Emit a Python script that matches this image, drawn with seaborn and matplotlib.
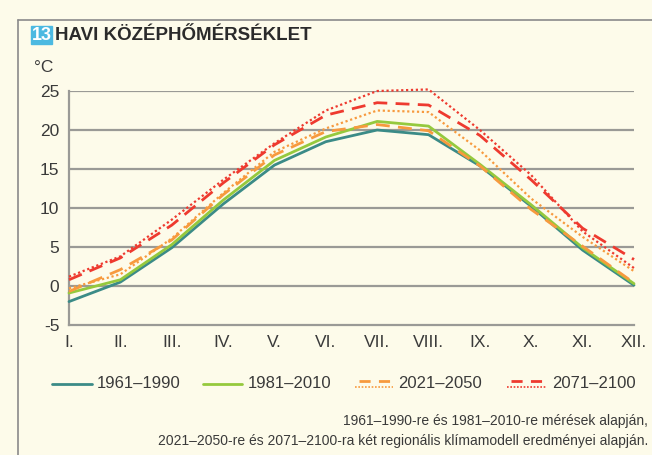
import numpy as np
import pandas as pd
import seaborn as sns
import matplotlib.pyplot as plt
from matplotlib.lines import Line2D
from matplotlib.patches import Rectangle

# monthly mean temperature (°C)
months = ["I.", "II.", "III.", "IV.", "V.", "VI.", "VII.", "VIII.", "IX.", "X.", "XI.", "XII."]
t_1961_1990 = [-2.0, 0.5, 4.9, 10.5, 15.5, 18.5, 20.0, 19.4, 15.4, 10.2, 4.6, 0.1]
t_1981_2010 = [-0.9, 0.8, 5.3, 11.0, 16.1, 19.1, 21.1, 20.5, 15.6, 10.4, 4.9, 0.3]
t_2021_2050_a = [-0.7, 2.1, 5.9, 11.7, 16.8, 19.8, 20.7, 19.9, 15.4, 9.8, 5.1, 0.4]
t_2021_2050_b = [-0.3, 1.5, 6.1, 11.9, 17.2, 20.2, 22.5, 22.3, 17.4, 11.2, 6.3, 1.9]
t_2071_2100_a = [0.8, 3.6, 7.8, 13.2, 18.1, 21.9, 23.5, 23.2, 19.3, 13.6, 7.4, 3.4]
t_2071_2100_b = [1.2, 3.8, 8.5, 13.6, 18.3, 22.5, 25.0, 25.2, 20.0, 14.2, 7.0, 2.3]

periods = ["1961–1990", "1981–2010", "2021–2050", "2071–2100"]

bg = "#fdfbea"
teal = "#3b8b87"
green = "#95c93d"
orange = "#f79a3e"
red = "#ee3a2f"
grid_c = "#9a9a96"
txt = "#3a3a3a"

sns.set_style("white")
plt.rcParams["font.family"] = ["Liberation Sans", "DejaVu Sans"]
plt.rcParams["axes.unicode_minus"] = False

fig = plt.figure(figsize=(6.52, 4.55), dpi=100, facecolor=bg)
ax = fig.add_axes([69 / 652, 130 / 455, 565 / 652, 234 / 455], facecolor=bg)

x = np.arange(len(months))
series = [
    (t_1961_1990, teal, "-", 2.0),
    (t_1981_2010, green, "-", 2.0),
    (t_2021_2050_a, orange, (0, (5, 3)), 2.0),
    (t_2021_2050_b, orange, (0, (1, 1.2)), 1.6),
    (t_2071_2100_a, red, (0, (5, 3)), 2.0),
    (t_2071_2100_b, red, (0, (1, 1.2)), 1.6),
]
for vals, col, ls, lw in series:
    sns.lineplot(x=x, y=vals, color=col, linestyle=ls, linewidth=lw, ax=ax, clip_on=False, zorder=3)

ax.set_xlim(0, 11)
ax.set_ylim(-5, 25)
ax.set_yticks(range(-5, 26, 5))
ax.set_xticks(x)
ax.set_xticklabels(months)
for yv in range(0, 26, 5):
    ax.axhline(yv, color=grid_c, linewidth=1.6, zorder=1)
for s in ["top", "right"]:
    ax.spines[s].set_visible(False)
for s in ["left", "bottom"]:
    ax.spines[s].set_color(grid_c)
    ax.spines[s].set_linewidth(1.6)
ax.tick_params(axis="both", colors=grid_c, labelcolor=txt, labelsize=12.5, length=5, width=1.3, pad=2)
ax.set_xlabel("")
ax.set_ylabel("")

# frame and title
fig.add_artist(Line2D([18 / 652, 18 / 652], [0, 1 - 20 / 455], transform=fig.transFigure, color="#8a8a8a", lw=1.2))
fig.add_artist(Line2D([18 / 652, 1], [1 - 20 / 455, 1 - 20 / 455], transform=fig.transFigure, color="#8a8a8a", lw=1.2))
fig.add_artist(Rectangle((31 / 652, 1 - 44 / 455), 21 / 652, 18 / 455, transform=fig.transFigure, color="#4cb9e1"))
fig.text(41.5 / 652, 1 - 35 / 455, "13", color="white", fontsize=13, fontweight="bold", ha="center", va="center")
fig.text(55 / 652, 1 - 35 / 455, "HAVI KÖZÉPHŐMÉRSÉKLET", color="#2b2b2b", fontsize=13.5, fontweight="bold",
         ha="left", va="center")
fig.text(34 / 652, 1 - 68 / 455, "°C", color=txt, fontsize=12.5, ha="left", va="center")

# legend
leg_y = 1 - 384 / 455
leg = [(52, 92, 97), (203, 242, 248), (355, 393, 398), (507, 547, 552)]
cols = [teal, green, orange, red]
for (x0, x1, xt), col, lab, i in zip(leg, cols, periods, range(4)):
    if i < 2:
        fig.add_artist(Line2D([x0 / 652, x1 / 652], [leg_y, leg_y], transform=fig.transFigure, color=col, lw=2))
    else:
        fig.add_artist(Line2D([(x0 + 4) / 652, x1 / 652], [leg_y + 3 / 455, leg_y + 3 / 455],
                              transform=fig.transFigure, color=col, lw=2, linestyle=(0, (4, 3))))
        fig.add_artist(Line2D([x0 / 652, x1 / 652], [leg_y - 3 / 455, leg_y - 3 / 455],
                              transform=fig.transFigure, color=col, lw=1.2, linestyle=(0, (1, 1))))
    fig.text(xt / 652, leg_y, lab, color=txt, fontsize=12, ha="left", va="center")

# source note
fig.text(648 / 652, 1 - 421 / 455, "1961–1990-re és 1981–2010-re mérések alapján,", color=txt, fontsize=10,
         ha="right", va="center")
fig.text(648 / 652, 1 - 441 / 455, "2021–2050-re és 2071–2100-ra két regionális klímamodell eredményei alapján.",
         color=txt, fontsize=10, ha="right", va="center")

fig.savefig("out.png", dpi=100, facecolor=bg)
